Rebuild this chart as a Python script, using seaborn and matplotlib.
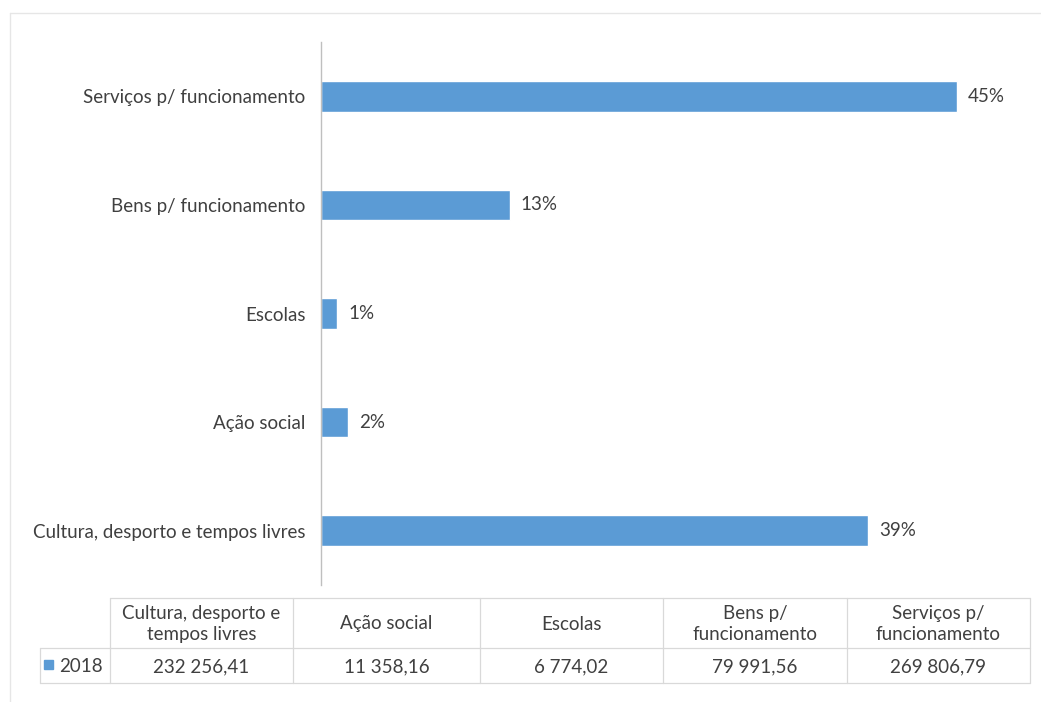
import numpy as np
import matplotlib
matplotlib.use("Agg")
import matplotlib.pyplot as plt
import seaborn as sns
import pandas as pd

# Data (table order, as in the reference)
categories = ["Cultura, desporto e tempos livres", "Ação social", "Escolas",
              "Bens p/ funcionamento", "Serviços p/ funcionamento"]
header_labels = ["Cultura, desporto e\ntempos livres", "Ação social", "Escolas",
                 "Bens p/\nfuncionamento", "Serviços p/\nfuncionamento"]
values_2018 = [232256.41, 11358.16, 6774.02, 79991.56, 269806.79]
value_text = ["232 256,41", "11 358,16", "6 774,02", "79 991,56", "269 806,79"]
series_name = "2018"

df = pd.DataFrame({"categoria": categories, "valor": values_2018})
df["pct"] = df["valor"] / df["valor"].sum() * 100

sns.set_style("white")
plt.rcParams["font.family"] = ["Lato", "DejaVu Sans"]

bar_color = "#5B9BD5"
text_color = "#404040"
grid_color = "#d9d9d9"
fs = 13.5

W, H = 1041, 702
fig = plt.figure(figsize=(W / 100, H / 100), dpi=100)

# plot area in pixels
left, right, top, bottom = 321, 1028, 42, 585
ax = fig.add_axes([left / W, 1 - bottom / H, (right - left) / W, (bottom - top) / H])

order = categories[::-1]
sns.barplot(data=df, x="valor", y="categoria", order=order, orient="h",
            color=bar_color, width=0.28, saturation=1, ax=ax)
ax.set_xlim(0, 300000)
ax.set_ylim(len(order) - 0.5, -0.5)

# percentage labels
pct_lookup = dict(zip(df["categoria"], df["pct"]))
labels = ["{:.0f}%".format(pct_lookup[c]) for c in order]
ax.bar_label(ax.containers[0], labels=labels, padding=8, fontsize=fs, color=text_color)

ax.set_xlabel("")
ax.set_ylabel("")
ax.set_xticks([])
ax.tick_params(axis="y", labelsize=fs, colors=text_color, length=0, pad=11)
ax.set_yticks(np.arange(-0.5, len(order)), minor=True)
ax.tick_params(axis="y", which="minor", length=5, color="#bfbfbf", direction="out")
for s in ["top", "right", "bottom"]:
    ax.spines[s].set_visible(False)
ax.spines["left"].set_color("#bfbfbf")
ax.spines["left"].set_linewidth(1)

# data table below the chart, drawn in pixel coordinates
tab = fig.add_axes([0, 0, 1, 1], zorder=-1)
tab.set_xlim(0, W)
tab.set_ylim(H, 0)
tab.axis("off")

col_edges = [110, 293, 480, 663, 847, 1030]
row_top, row_mid, row_bot = 598, 648, 683
lw = 0.9
tab.plot([col_edges[0], col_edges[-1]], [row_top, row_top], color=grid_color, lw=lw)
tab.plot([40, col_edges[-1]], [row_mid, row_mid], color=grid_color, lw=lw)
tab.plot([40, col_edges[-1]], [row_bot, row_bot], color=grid_color, lw=lw)
tab.plot([40, 40], [row_mid, row_bot], color=grid_color, lw=lw)
for x in col_edges:
    tab.plot([x, x], [row_top, row_bot], color=grid_color, lw=lw)

for i, (hdr, txt) in enumerate(zip(header_labels, value_text)):
    cx = (col_edges[i] + col_edges[i + 1]) / 2
    tab.text(cx, (row_top + row_mid) / 2 + 1, hdr, ha="center", va="center",
             fontsize=fs, color=text_color, linespacing=1.35)
    tab.text(cx, (row_mid + row_bot) / 2 + 1, txt, ha="center", va="center",
             fontsize=fs, color=text_color)

# legend key in the row header
tab.add_patch(plt.Rectangle((44, 660), 9, 9, color=bar_color))
tab.text(59, (row_mid + row_bot) / 2 + 1, series_name, ha="left", va="center",
         fontsize=fs, color=text_color)

# faint chart border
tab.plot([10, W], [13, 13], color="#e6e6e6", lw=1)
tab.plot([10, 10], [13, H], color="#e6e6e6", lw=1)

fig.savefig("out.png", dpi=100, facecolor="white")
